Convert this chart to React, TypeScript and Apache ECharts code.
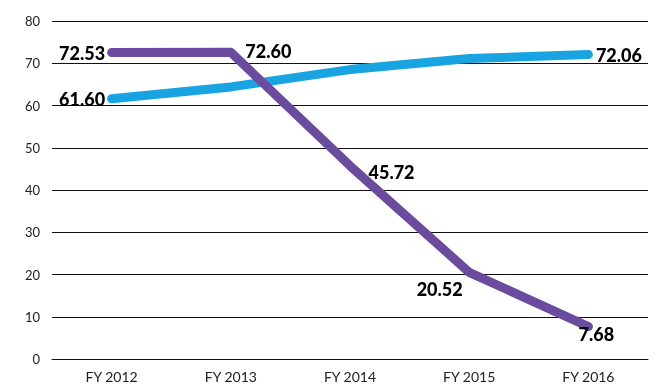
import React, { useEffect, useRef } from "react";
import * as echarts from "echarts";

const categories = ["FY 2012", "FY 2013", "FY 2014", "FY 2015", "FY 2016"];
const purpleValues = [72.53, 72.6, 45.72, 20.52, 7.68];
const blueValues = [61.6, 64.4, 68.5, 71.1, 72.06];
const yTicks = { min: 0, max: 80, interval: 10 };

const labelFont = {
  fontFamily: "Lato",
  fontWeight: 900,
  fontSize: 18,
  color: "#000",
};

export default function App() {
  const ref = useRef<HTMLDivElement>(null);
  useEffect(() => {
    if (!ref.current) return;
    const chart = echarts.init(ref.current, null, { renderer: "svg" });
    const purpleLabels = [
      { position: "left", distance: 6 },
      { position: "right", distance: 14, offset: [0, -1] },
      { position: "right", distance: 18, offset: [0, 6] },
      { position: "left", distance: 6, offset: [0, 17] },
      { position: "bottom", distance: 0, offset: [8, -2] },
    ];
    const blueLabels = [
      { position: "left", distance: 6 },
      null,
      null,
      null,
      { position: "right", distance: 7 },
    ];
    chart.setOption({
      animation: false,
      grid: { left: 52, right: 22, top: 21, bottom: 31 },
      xAxis: {
        type: "category",
        data: categories,
        boundaryGap: true,
        axisLine: { lineStyle: { color: "#111", width: 1 } },
        axisTick: { show: false },
        axisLabel: { fontFamily: "Lato", fontSize: 14, color: "#222", margin: 10 },
      },
      yAxis: {
        type: "value",
        min: yTicks.min,
        max: yTicks.max,
        interval: yTicks.interval,
        axisLine: { show: false },
        axisTick: { show: false },
        splitLine: { lineStyle: { color: "#111", width: 1 } },
        axisLabel: { fontFamily: "Lato", fontSize: 13, color: "#222", margin: 12 },
      },
      series: [
        {
          type: "line",
          data: blueValues.map((v, i) => {
            const l = blueLabels[i];
            return {
              value: v,
              label: l
                ? { show: true, ...l, ...labelFont, formatter: () => v.toFixed(2) }
                : { show: false },
            };
          }),
          symbol: "circle",
          symbolSize: 1,
          showSymbol: true,
          itemStyle: { color: "#18a4e0" },
          lineStyle: { color: "#18a4e0", width: 9, cap: "round", join: "round" },
          z: 2,
        },
        {
          type: "line",
          data: purpleValues.map((v, i) => ({
            value: v,
            label: { show: true, ...purpleLabels[i], ...labelFont, formatter: () => v.toFixed(2) },
          })),
          symbol: "circle",
          symbolSize: 1,
          showSymbol: true,
          itemStyle: { color: "#6a4b9e" },
          lineStyle: { color: "#6a4b9e", width: 9, cap: "round", join: "round" },
          z: 3,
        },
      ],
    });
    return () => chart.dispose();
  }, []);
  return (
    <div
      ref={ref}
      style={{ position: "fixed", left: 0, top: 0, width: 670, height: 390 }}
    />
  );
}
